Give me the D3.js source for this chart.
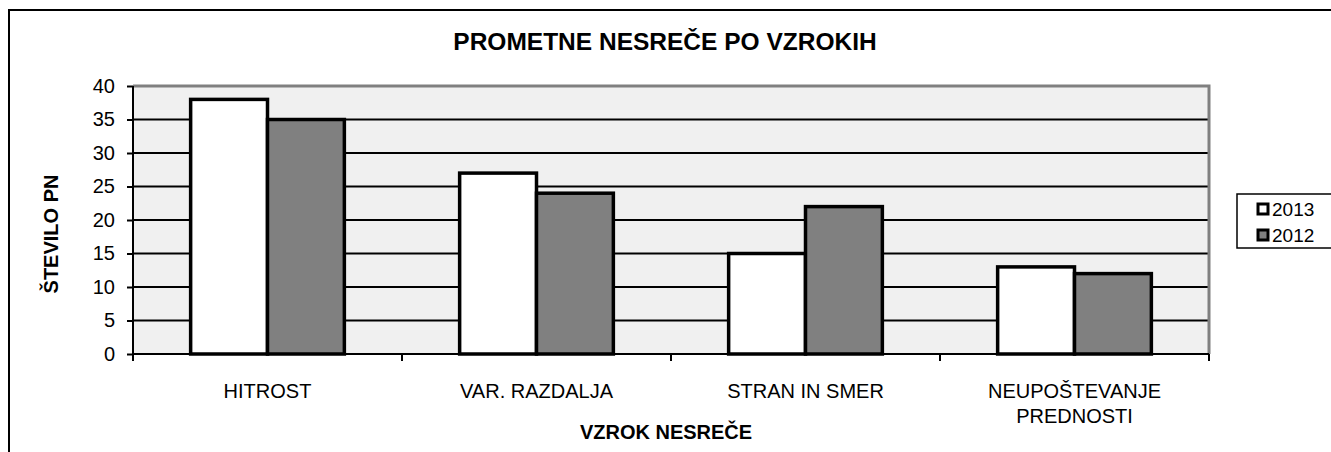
<!DOCTYPE html>
<html lang="sl">

<head>
    <title>Prometne nesreče po vzrokih</title>
    <meta charset="UTF-8">
    <script src="https://cdn.jsdelivr.net/npm/d3@7"></script>
    <style>
        body {
            margin: 0;
            background: #fff;
        }

        svg text {
            font-family: "Liberation Sans", Arial, sans-serif;
        }
    </style>
</head>

<body>
    <script>
        // podatki
        var categories = ['HITROST', 'VAR. RAZDALJA', 'STRAN IN SMER', 'NEUPOŠTEVANJE PREDNOSTI'];
        var seriesNames = ['2013', '2012'];
        var values2013 = [38, 27, 15, 13];
        var values2012 = [35, 24, 22, 12];
        var yTicks = [0, 5, 10, 15, 20, 25, 30, 35, 40];
        var colors = ['#ffffff', '#808080'];

        var width = 1331,
            height = 452;
        var plot = { left: 133, right: 1209, top: 86, bottom: 354 };

        var svg = d3.select('body').append('svg')
            .attr('width', width)
            .attr('height', height);

        // zunanji okvir
        svg.append('rect')
            .attr('x', 9).attr('y', 10)
            .attr('width', 1400).attr('height', 600)
            .attr('fill', '#fff')
            .attr('stroke', '#000')
            .attr('stroke-width', 2);

        var data = categories.map(function(c, i) {
            return { cat: c, vals: [values2013[i], values2012[i]] };
        });

        var x0 = d3.scaleBand()
            .domain(categories)
            .range([plot.left, plot.right])
            .padding(0);
        var x1 = d3.scaleBand()
            .domain(seriesNames)
            .range([0, x0.bandwidth()])
            .paddingInner(0)
            .paddingOuter(0.75);
        var y = d3.scaleLinear()
            .domain([0, 40])
            .range([plot.bottom, plot.top]);

        // ozadje
        svg.append('rect')
            .attr('x', plot.left).attr('y', plot.top)
            .attr('width', plot.right - plot.left)
            .attr('height', plot.bottom - plot.top)
            .attr('fill', '#f0f0f0');

        // mreža
        svg.append('g').selectAll('line')
            .data(yTicks.filter(function(t) { return t > 0 && t < 40; }))
            .enter().append('line')
            .attr('x1', plot.left).attr('x2', plot.right)
            .attr('y1', function(d) { return y(d); })
            .attr('y2', function(d) { return y(d); })
            .attr('stroke', '#000')
            .attr('stroke-width', 2);

        // siv okvir zgoraj in desno
        svg.append('path')
            .attr('d', 'M' + plot.left + ',' + y(40) + 'H' + plot.right + 'V' + plot.bottom)
            .attr('fill', 'none')
            .attr('stroke', '#808080')
            .attr('stroke-width', 3);

        // stolpci
        svg.append('g').selectAll('g.cat')
            .data(data)
            .enter().append('g')
            .attr('class', 'cat')
            .attr('transform', function(d) { return 'translate(' + x0(d.cat) + ',0)'; })
            .selectAll('rect')
            .data(function(d) {
                return d.vals.map(function(v, i) { return { key: seriesNames[i], v: v, i: i }; });
            })
            .enter().append('rect')
            .attr('x', function(d) { return x1(d.key); })
            .attr('width', x1.bandwidth())
            .attr('y', function(d) { return y(d.v); })
            .attr('height', function(d) { return y(0) - y(d.v); })
            .attr('fill', function(d) { return colors[d.i]; })
            .attr('stroke', '#000')
            .attr('stroke-width', 3.5);

        // os y
        var yAxis = d3.axisLeft(y).tickValues(yTicks).tickSize(6).tickPadding(12);
        var gy = svg.append('g')
            .attr('transform', 'translate(' + plot.left + ',0)')
            .call(yAxis);
        gy.select('.domain').attr('stroke-width', 2).attr('d', 'M0,' + plot.top + 'V' + plot.bottom);
        gy.selectAll('.tick line').attr('stroke-width', 2);
        gy.selectAll('.tick text').attr('font-size', 20).attr('fill', '#000');

        // os x
        var xAxis = d3.axisBottom(x0).tickSize(0).tickFormat('');
        var gx = svg.append('g')
            .attr('transform', 'translate(0,' + plot.bottom + ')')
            .call(xAxis);
        gx.select('.domain').attr('stroke-width', 2).attr('d', 'M' + plot.left + ',0H' + plot.right);
        gx.selectAll('line.edge')
            .data(categories.map(function(c) { return x0(c); }).concat([plot.right]))
            .enter().append('line')
            .attr('class', 'edge')
            .attr('x1', function(d) { return d; }).attr('x2', function(d) { return d; })
            .attr('y1', 0).attr('y2', 7)
            .attr('stroke', '#000')
            .attr('stroke-width', 2);

        // oznake kategorij
        var labelLines = {
            'NEUPOŠTEVANJE PREDNOSTI': ['NEUPOŠTEVANJE', 'PREDNOSTI']
        };
        svg.append('g').selectAll('text')
            .data(categories)
            .enter().append('text')
            .attr('x', function(d) { return x0(d) + x0.bandwidth() / 2; })
            .attr('y', 398)
            .attr('text-anchor', 'middle')
            .attr('font-size', 20)
            .each(function(d) {
                var lines = labelLines[d] || [d];
                var t = d3.select(this);
                lines.forEach(function(l, i) {
                    t.append('tspan')
                        .attr('x', x0(d) + x0.bandwidth() / 2)
                        .attr('dy', i === 0 ? 0 : 25)
                        .text(l);
                });
            });

        // naslovi
        svg.append('text')
            .attr('x', 665).attr('y', 50)
            .attr('text-anchor', 'middle')
            .attr('font-size', 24.5).attr('font-weight', 'bold')
            .text('PROMETNE NESREČE PO VZROKIH');

        svg.append('text')
            .attr('x', 666).attr('y', 439)
            .attr('text-anchor', 'middle')
            .attr('font-size', 20).attr('font-weight', 'bold')
            .text('VZROK NESREČE');

        svg.append('text')
            .attr('transform', 'translate(58,234) rotate(-90)')
            .attr('text-anchor', 'middle')
            .attr('font-size', 20).attr('font-weight', 'bold')
            .text('ŠTEVILO PN');

        // legenda
        var legend = svg.append('g');
        legend.append('rect')
            .attr('x', 1237).attr('y', 194)
            .attr('width', 120).attr('height', 54)
            .attr('fill', '#fff')
            .attr('stroke', '#000')
            .attr('stroke-width', 1.5);
        var li = legend.selectAll('g.item')
            .data(seriesNames)
            .enter().append('g')
            .attr('class', 'item')
            .attr('transform', function(d, i) { return 'translate(1257,' + (209 + i * 26) + ')'; });
        li.append('rect')
            .attr('x', 1).attr('y', -5)
            .attr('width', 10).attr('height', 10)
            .attr('fill', function(d, i) { return colors[i]; })
            .attr('stroke', '#000')
            .attr('stroke-width', 3);
        li.append('text')
            .attr('x', 15).attr('y', 7)
            .attr('font-size', 19)
            .text(function(d) { return d; });
    </script>
</body>

</html>
